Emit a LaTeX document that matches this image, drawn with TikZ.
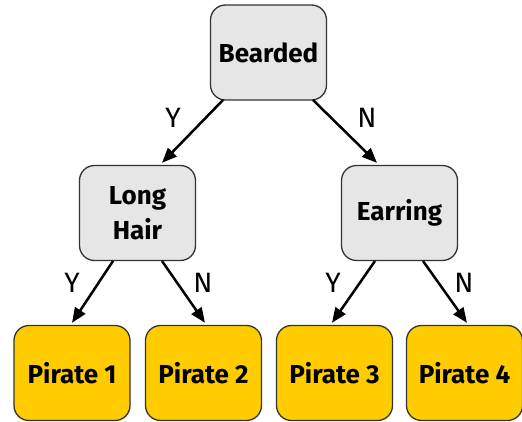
\documentclass[tikz,border=0pt]{standalone}
\usepackage{fontspec}
\setmainfont{Fira Sans}
\usetikzlibrary{arrows.meta}
\definecolor{boxgray}{HTML}{E6E6E6}
\definecolor{boxyellow}{HTML}{FFCC00}
\definecolor{edgegray}{HTML}{333333}
\begin{document}
\begin{tikzpicture}[x=1pt,y=-1pt,
  tbox/.style={draw=edgegray,line width=1.3pt,rounded corners=15pt,minimum width=116pt,minimum height=95pt,inner sep=0pt,align=center,font=\fontsize{26}{35}\selectfont\bfseries},
  qbox/.style={tbox,fill=boxgray},
  leaf/.style={tbox,fill=boxyellow},
  conn/.style={line width=2.5pt,-{Triangle[length=15pt,width=12pt]}},
  lbl/.style={font=\fontsize{28}{32}\selectfont,inner sep=0pt}]
\useasboundingbox (0,0) rectangle (522,422);
\node[qbox] (b) at (268.5,52.5) {Bearded};
\node[qbox] (lh) at (137.5,213) {Long\\Hair};
\node[qbox] (e) at (399.5,213) {Earring};
\node[leaf] (p1) at (72,373) {Pirate 1};
\node[leaf] (p2) at (203.5,373) {Pirate 2};
\node[leaf] (p3) at (334.5,373) {Pirate 3};
\node[leaf] (p4) at (464.5,373) {Pirate 4};
\coordinate (by) at (223,100);
\coordinate (bn) at (313,100);
\coordinate (ly) at (113,261);
\coordinate (ln) at (162,261);
\coordinate (ey) at (375,261);
\coordinate (en) at (423,261);
\draw[conn] (by) -- ([xshift=24.5pt,yshift=2pt]lh.north);
\draw[conn] (bn) -- ([xshift=-22.5pt,yshift=2pt]e.north);
\draw[conn] (ly) -- ([yshift=2pt]p1.north);
\draw[conn] (ln) -- ([xshift=1.5pt,yshift=2pt]p2.north);
\draw[conn] (ey) -- ([xshift=-2.5pt,yshift=2pt]p3.north);
\draw[conn] (en) -- ([xshift=2.5pt,yshift=2pt]p4.north);
\node[lbl] (yb) at (173,118) {Y};
\node[lbl] (nb) at (367,118) {N};
\node[lbl] (yl) at (72,283) {Y};
\node[lbl] (nl) at (203,283) {N};
\node[lbl] (ye) at (333,283) {Y};
\node[lbl] (ne) at (464,283) {N};
\end{tikzpicture}
\end{document}
